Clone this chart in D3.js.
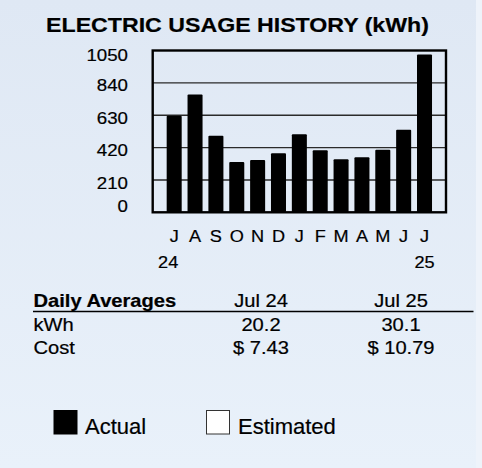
<!DOCTYPE html>
<html><head><meta charset="utf-8">
<script src="https://cdn.jsdelivr.net/npm/d3@7"></script>
<style>
body{margin:0;background:#e3ebf6;overflow:hidden}
svg{display:block}
text{font-family:"Liberation Sans",Arial,Helvetica,sans-serif;fill:#000;stroke:#000;stroke-width:0.2}
</style>
</head><body>
<script>
const months = ["J","A","S","O","N","D","J","F","M","A","M","J","J"];
const yearLabels = ["24","","","","","","","","","","","","25"];
const usage = [626,765,496,326,339,384,507,402,345,358,406,535,1024];
const yTicks = [0,210,420,630,840,1050];
const tableHeader = ["Daily Averages","Jul 24","Jul 25"];
const tableRows = [["kWh","20.2","30.1"],["Cost","$ 7.43","$ 10.79"]];
const legendItems = [{label:"Actual",fill:"#000"},{label:"Estimated",fill:"#fff"}];

const W = 482, H = 468;
const svg = d3.select("body").append("svg").attr("width", W).attr("height", H);

const defs = svg.append("defs");
const grad = defs.append("linearGradient").attr("id","bg").attr("x1",0).attr("y1",0).attr("x2",0).attr("y2",1);
grad.append("stop").attr("offset","0%").attr("stop-color","#dfe8f4");
grad.append("stop").attr("offset","100%").attr("stop-color","#e9f1fa");
svg.append("rect").attr("width",W).attr("height",H).attr("fill","url(#bg)");
svg.append("rect").attr("x",476).attr("width",W-476).attr("height",H).attr("fill","#eef3fa");

// title
svg.append("text").attr("transform","translate(237.5,31.5) scale(1.13,1)")
  .attr("text-anchor","middle").attr("font-weight","bold").attr("font-size",20.5)
  .text("ELECTRIC USAGE HISTORY (kWh)");

const plot = {l:152.7, r:446, t:50.5, b:212.3};
const x = d3.scaleBand().domain(d3.range(months.length)).range([plot.l, plot.r]).paddingInner(0.28).paddingOuter(0.67);
const y = d3.scaleLinear().domain([0,1050]).range([plot.b, plot.t]);

// gridlines
svg.append("g").selectAll("line").data(yTicks.filter(v => v>0 && v<1050)).join("line")
  .attr("x1",plot.l).attr("x2",plot.r).attr("y1",d=>y(d)).attr("y2",d=>y(d))
  .attr("stroke","#2a2a2a").attr("stroke-width",1.4);

// bars
svg.append("g").selectAll("rect").data(usage).join("rect")
  .attr("x",(d,i)=>x(i)).attr("width",x.bandwidth())
  .attr("y",d=>y(d)).attr("height",d=>plot.b - y(d))
  .attr("fill","#000").attr("rx",1);

// frame
svg.append("rect").attr("x",plot.l).attr("y",plot.t).attr("width",plot.r-plot.l).attr("height",plot.b-plot.t)
  .attr("fill","none").attr("stroke","#000").attr("stroke-width",2.4);

// y labels
svg.append("g").selectAll("text").data(yTicks).join("text")
  .attr("transform",d=>`translate(128,${Math.max(54.5, Math.min(206, y(d)+2.5))}) scale(1.1,1)`)
  .attr("text-anchor","end").attr("dy","0.36em").attr("font-size",17)
  .text(d=>d);

// x labels
svg.append("g").selectAll("text").data(months).join("text")
  .attr("transform",(d,i)=>`translate(${x(i)+x.bandwidth()/2},241.5) scale(1.1,1)`)
  .attr("text-anchor","middle").attr("font-size",16.5).text(d=>d);
svg.append("g").selectAll("text").data(yearLabels).join("text")
  .attr("transform",(d,i)=>`translate(${x(i)+x.bandwidth()/2 - (i===0?6:0)},268) scale(1.1,1)`)
  .attr("text-anchor","middle").attr("font-size",16.5).text(d=>d);

// table
const colX = [33.5, 261, 401];
const colAnchor = ["start","middle","middle"];
svg.append("g").selectAll("text").data(tableHeader).join("text")
  .attr("transform",(d,i)=>`translate(${colX[i]},306.5) scale(1.15,1)`)
  .attr("text-anchor",(d,i)=>colAnchor[i])
  .attr("font-weight",(d,i)=>i===0?"bold":"normal").attr("font-size",17.5).text(d=>d);
svg.append("line").attr("x1",33).attr("x2",473.5).attr("y1",311.5).attr("y2",311.5)
  .attr("stroke","#000").attr("stroke-width",1.5);
const rows = svg.append("g").selectAll("g").data(tableRows).join("g")
  .attr("transform",(d,i)=>`translate(0,${330.5 + i*23.5})`);
rows.selectAll("text").data(d=>d).join("text")
  .attr("transform",(d,i)=>`translate(${colX[i]},0) scale(1.15,1)`)
  .attr("text-anchor",(d,i)=>colAnchor[i])
  .attr("font-size",17.5).text(d=>d);

// legend
const legX = [53.5, 206];
const lg = svg.append("g").selectAll("g").data(legendItems).join("g")
  .attr("transform",(d,i)=>`translate(${legX[i]},410)`);
lg.append("rect").attr("x",0.5).attr("y",0.5).attr("width",23).attr("height",23.5)
  .attr("fill",d=>d.fill).attr("stroke",(d,i)=>i===0?"#000":"#333").attr("stroke-width",1);
lg.append("text").attr("x",(d,i)=>i===0?31.5:32).attr("y",24).attr("font-size",22).text(d=>d.label);
</script>
</body></html>
